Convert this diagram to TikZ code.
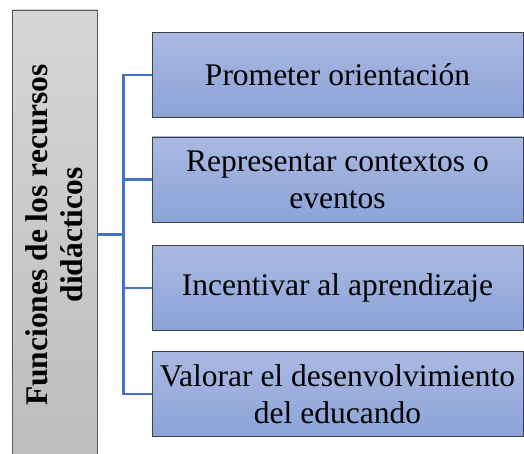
\documentclass[tikz,border=0pt]{standalone}
\usepackage{fontspec}
\setmainfont{Liberation Serif}
\usepackage{xcolor}
\usetikzlibrary{shapes,backgrounds,calc}

\definecolor{boxtop}{HTML}{AAB9E1}
\definecolor{boxbot}{HTML}{8BA3D8}
\definecolor{greytop}{HTML}{D6D6D6}
\definecolor{greybot}{HTML}{BDBDBD}
\definecolor{linkblue}{HTML}{4472C4}

\begin{document}
\begin{tikzpicture}[x=1pt,y=-1pt]
        % Define the styles for the boxes and the links
        \tikzstyle{funcbox}=[draw=black!75, line width=0.9pt, top color=boxtop, bottom color=boxbot,
            minimum width=371pt, minimum height=85pt, inner sep=2pt, align=center,
            font=\fontsize{31.5}{37}\selectfont];
        \tikzstyle{titlebox}=[draw=black!65, line width=0.9pt, top color=greytop, bottom color=greybot,
            minimum width=85pt, minimum height=450pt, inner sep=0pt];
        \tikzstyle{link}=[draw=linkblue, line width=2.2pt];

        % Fix the page size
        \useasboundingbox (0,0) rectangle (524,454);

        % Grey box on the left, running off the bottom edge
        \node[titlebox] (title) at (54.5,235) {};
        \node[rotate=90, align=center, font=\bfseries\fontsize{31.5}{35}\selectfont] (titletext) at (title.center)
            {Funciones de los recursos\\ didácticos};

        % The four functions
        \node[funcbox] (f1) at (337.5,75) {Prometer orientación};
        \node[funcbox] (f2) at (337.5,179.5) {Representar contextos o\\ eventos};
        \node[funcbox] (f3) at (337.5,288) {Incentivar al aprendizaje};
        \node[funcbox] (f4) at (337.5,394) {Valorar el desenvolvimiento\\ del educando};

        % Bracket from the title to each function
        \coordinate (split) at ($(f1.west)!0.5!(f4.west) - (28,0)$);
        \draw[link] (title.east |- split) -- (split);
        \draw[link] (f1.west) -| (split) |- (f4.west);
        \draw[link] (split |- f2.west) -- (f2.west);
        \draw[link] (split |- f3.west) -- (f3.west);

    \end{tikzpicture}
\end{document}
